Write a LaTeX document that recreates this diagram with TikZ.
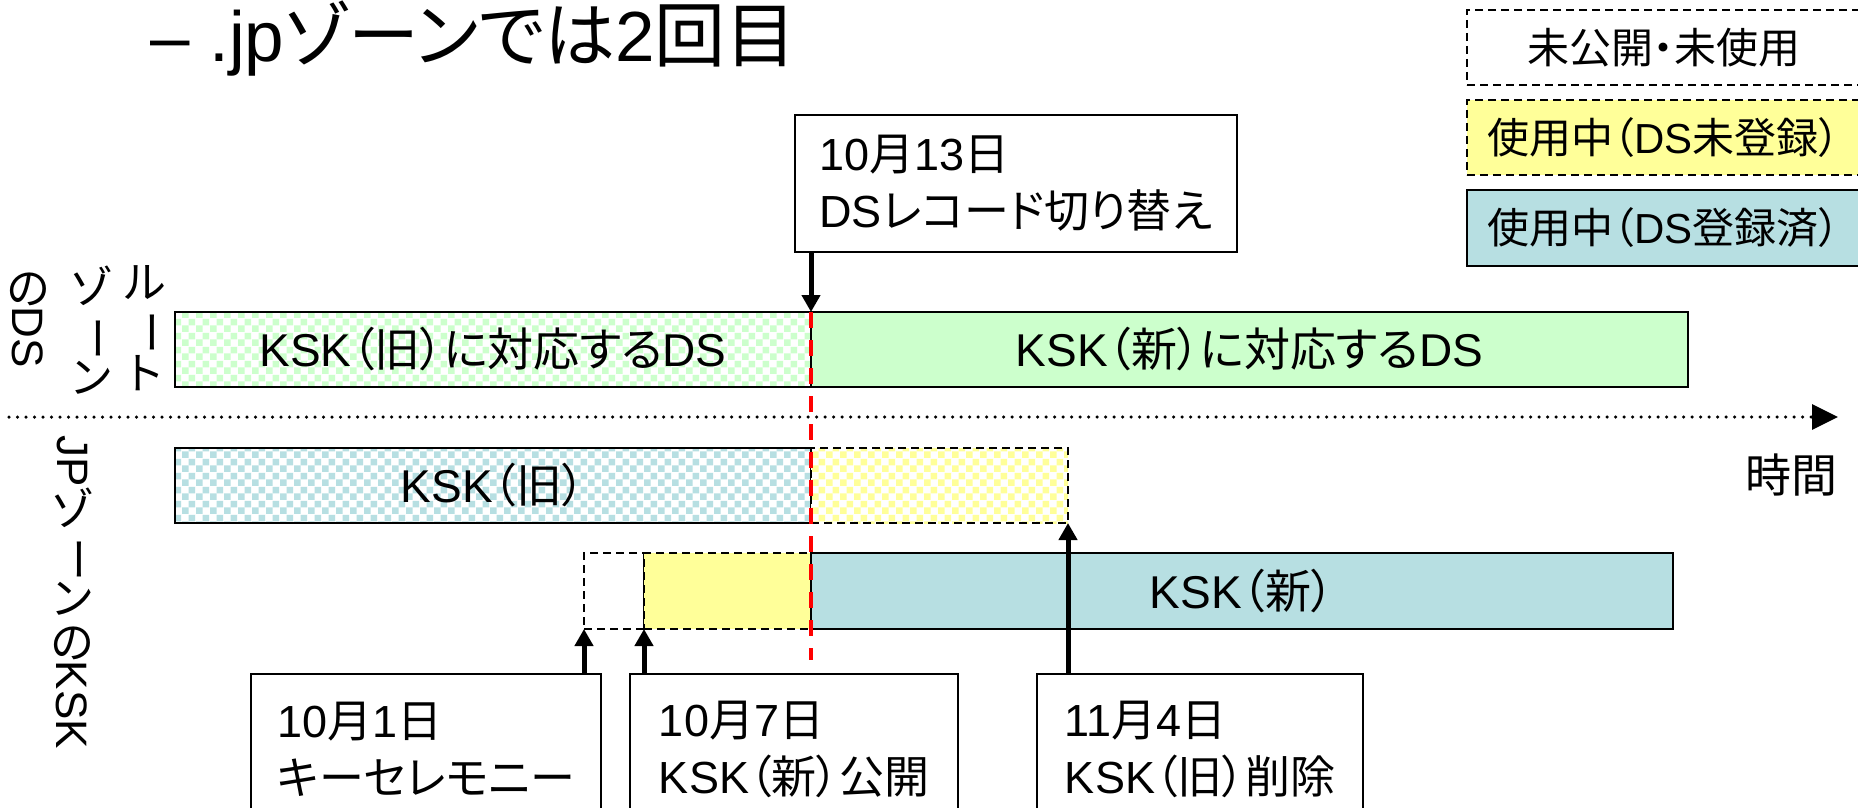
\documentclass[tikz,border=0pt]{standalone}
\usepackage{fontspec}
\usepackage{graphicx}
\setmainfont{Liberation Sans}
\newfontfamily\latfont{Liberation Sans}
\newfontfamily\jpfont{Noto Sans CJK JP}[RawFeature=+palt]
\usetikzlibrary{arrows.meta,positioning,patterns.meta}

% Japanese characters in Noto, the rest in Liberation Sans
\XeTeXinterchartokenstate=1
\newXeTeXintercharclass\jpclass
\newcommand{\setjprange}[2]{\count255=#1 \loop\XeTeXcharclass\count255=\jpclass\ifnum\count255<#2 \advance\count255 by 1 \repeat}
\setjprange{"3000}{"30FF}
\setjprange{"4E00}{"9FFF}
\setjprange{"FF00}{"FFEF}
\XeTeXinterchartoks 0 \jpclass = {\jpfont}
\XeTeXinterchartoks 4095 \jpclass = {\jpfont}
\XeTeXinterchartoks \jpclass 0 = {\latfont}
\XeTeXinterchartoks \jpclass 4095 = {\latfont}

\definecolor{dsgreen}{HTML}{CCFFCC}
\definecolor{kskblue}{HTML}{B7DFE2}
\definecolor{useyellow}{HTML}{FFFF99}

\newcommand{\tate}[1]{\rotatebox[origin=c]{-90}{#1}}

\tikzdeclarepattern{
  name=checker,
  type=uncolored,
  bounding box={(0pt,0pt) and (14pt,14pt)},
  tile size={(14pt,14pt)},
  code={
    \fill (0pt,0pt) rectangle (7pt,7pt);
    \fill (7pt,7pt) rectangle (14pt,14pt);
  }
}

\tikzset{
  bar/.style={draw, line width=2, minimum height=75, inner sep=0, outer sep=0, anchor=north west},
  solidbar/.style={bar, fill=#1},
  checkbar/.style={bar, preaction={fill=white}, pattern=checker, pattern color=#1},
  opendash/.style={dash pattern=on 8pt off 5pt},
  datebox/.style={draw, line width=2, fill=white, align=left, inner sep=0, outer sep=0, anchor=north west, font=\fontsize{45}{57}\selectfont},
  legbox/.style={draw, line width=2, minimum width=393, minimum height=75, inner sep=0, outer sep=0, anchor=north west, font=\fontsize{42}{50}\selectfont},
  vlabel/.style={align=center, inner sep=0, font=\fontsize{44}{44}\selectfont},
  evarrow/.style={line width=5, -{Triangle[length=17pt,width=18pt]}},
  timeaxis/.style={line width=3.5, line cap=round, dash pattern=on 0pt off 8.5pt, -{Triangle[length=26pt,width=25pt]}},
  cutline/.style={red, line width=4, dash pattern=on 16pt off 12pt}
}

\begin{document}
\begin{tikzpicture}[x=1pt,y=-1pt,font=\fontsize{46}{57}\selectfont]
	\useasboundingbox (0,0) rectangle (1858,808);
	\clip (0,0) rectangle (1858,808);
	
	\node[anchor=base west, inner sep=0, font=\fontsize{71}{80}\selectfont] (title) at (150,62) {– .jpゾーンでは2回目};
	
	% legend
	\node[legbox, opendash, fill=white] (legA) at (1467,10) {未公開・未使用};
	\node[legbox, opendash, fill=useyellow] (legB) at (1467,100) {使用中（DS未登録）};
	\node[legbox, fill=kskblue, minimum height=76] (legC) at (1467,190) {使用中（DS登録済）};
	
	% DS of the root zone
	\node[checkbar=dsgreen, minimum width=636] (olds) at (175,312) {KSK（旧）に対応するDS};
	\node[solidbar=dsgreen, minimum width=877, right=0pt of olds] (news) {KSK（新）に対応するDS};
	
	% KSK of the JP zone
	\node[checkbar=kskblue, minimum width=636] (old) at (175,448) {KSK（旧）};
	\node[checkbar=useyellow, opendash, minimum width=257, right=0pt of old] (oldpost) {};
	\node[bar, opendash, fill=white, minimum width=60, minimum height=76] (unpub) at (584,553) {};
	\node[bar, opendash, fill=useyellow, minimum width=167, minimum height=76, right=0pt of unpub] (newpre) {};
	\node[solidbar=kskblue, minimum width=862, minimum height=76, right=0pt of newpre] (new) {KSK（新）};
	
	% time axis
	\coordinate (tstart) at (9,417);
	\coordinate (tend) at (1838,417);
	\draw[timeaxis] (tstart) -- (tend);
	\node (timelbl) at (1791,475) {時間};
	
	\node[vlabel] (rootA) at (145,328) {ル\\\tate{ー}\\ト};
	\node[vlabel] (rootB) at (91,330) {ゾ\\\tate{ー}\\ン};
	\node[vlabel] (rootC) at (28,320) {の\\\tate{DS}};
	\node[vlabel] (jpksk) at (72,592) {\tate{JP}\\ゾ\\\tate{ー}\\ン\\の\\\tate{KSK}};
	
	% events
	\node[datebox, minimum width=442, minimum height=137] (switch) at (795,115) {10月13日\\DSレコード切り替え};
	\node[datebox, minimum width=350, minimum height=150] (cer) at (251,674) {10月1日\\キーセレモニー};
	\node[datebox, minimum width=328, minimum height=150] (pub) at (630,674) {10月7日\\KSK（新）公開};
	\node[datebox, minimum width=326, minimum height=150] (del) at (1037,674) {11月4日\\KSK（旧）削除};
	
	\coordinate (cutend) at (811,660);
	\draw[cutline] (olds.north east) -- (cutend);
	
	\draw[evarrow] (switch.south -| olds.north east) -- (olds.north east);
	\draw[evarrow] (cer.north -| unpub.south west) -- (unpub.south west);
	\draw[evarrow] (pub.north -| newpre.south west) -- (newpre.south west);
	\draw[evarrow] (del.north -| oldpost.south east) -- (oldpost.south east);
\end{tikzpicture}
\end{document}
